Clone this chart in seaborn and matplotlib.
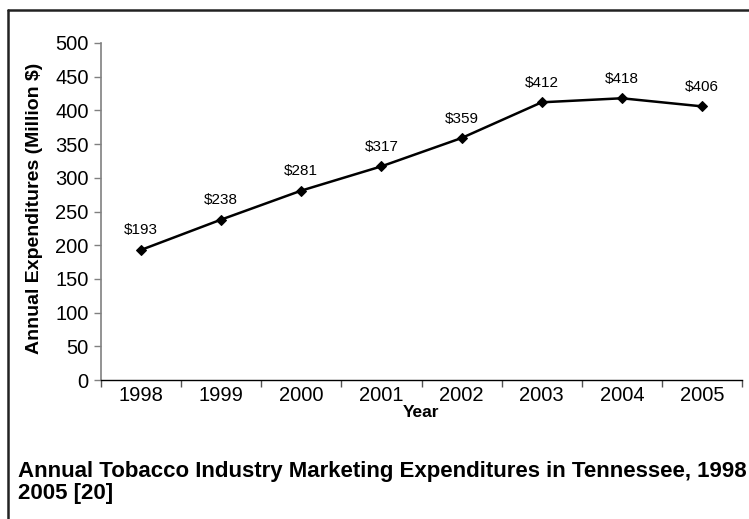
import numpy as np
import pandas as pd
import matplotlib
matplotlib.use("Agg")
import matplotlib.pyplot as plt
import seaborn as sns
from matplotlib.lines import Line2D

# dados
anos = ['1998', '1999', '2000', '2001', '2002', '2003', '2004', '2005']
gastos = [193, 238, 281, 317, 359, 412, 418, 406]
rotulos = ['$193', '$238', '$281', '$317', '$359', '$412', '$418', '$406']

sns.set_theme(style='white')
plt.rcParams['font.family'] = ['Liberation Sans', 'DejaVu Sans']
plt.rcParams['text.color'] = 'black'
plt.rcParams['axes.labelcolor'] = 'black'

df = pd.DataFrame({'pos': np.arange(len(anos)), 'valor': gastos})

fig = plt.figure(figsize=(7.49, 5.19), dpi=100)
ax = fig.add_axes([101 / 749, 1 - 380 / 519, (742 - 101) / 749, (380 - 43) / 519])

sns.lineplot(data=df, x='pos', y='valor', ax=ax, color='black', linewidth=1.8,
             marker='D', markersize=5.5, markeredgecolor='black')

for i, (v, r) in enumerate(zip(gastos, rotulos)):
    ax.annotate(r, (i, v), xytext=(0, 9), textcoords='offset points',
                ha='center', va='bottom', fontsize=11, color='black')

ax.set_xlim(-0.5, len(anos) - 0.5)
ax.set_ylim(0, 500)
ax.set_yticks(np.arange(0, 501, 50))
ax.set_xticks(np.arange(-0.5, len(anos)))
ax.set_xticklabels([])
ax.set_xticks(np.arange(len(anos)), minor=True)
ax.set_xticklabels(anos, minor=True)

ax.tick_params(axis='x', which='major', direction='out', length=5, width=1, color='#555555', bottom=True)
ax.tick_params(axis='x', which='minor', length=0, pad=4, labelsize=14.5, labelcolor='black', bottom=True)
ax.tick_params(axis='y', direction='out', length=5, width=1, color='#808080', left=True,
               labelsize=14.5, labelcolor='black', pad=4)

for s in ['top', 'right']:
    ax.spines[s].set_visible(False)
ax.spines['left'].set_color('#808080')
ax.spines['left'].set_linewidth(1.2)
ax.spines['bottom'].set_color('black')
ax.spines['bottom'].set_linewidth(1)

ax.set_xlabel('Year', fontsize=12.5, fontweight='bold')
ax.set_ylabel('Annual Expenditures (Million $)', fontsize=14, fontweight='bold')
ax.xaxis.set_label_coords((421 - 101) / 641, (380 - 405) / 337)
ax.yaxis.set_label_coords((43 - 101) / 641, (380 - 208) / 337)

fig.text(18 / 749, 1 - 471 / 519, 'Annual Tobacco Industry Marketing Expenditures in Tennessee, 1998',
         fontsize=16, fontweight='bold', ha='left', va='center')
fig.text(18 / 749, 1 - 494 / 519, '2005 [20]',
         fontsize=16, fontweight='bold', ha='left', va='center')

# moldura (so topo e esquerda visiveis)
fig.add_artist(Line2D([8 / 749, 8 / 749], [0, 1 - 10 / 519], transform=fig.transFigure,
                      color='#222222', linewidth=1.8))
fig.add_artist(Line2D([8 / 749, 1], [1 - 10 / 519, 1 - 10 / 519], transform=fig.transFigure,
                      color='#222222', linewidth=1.8))

fig.savefig('out.png', dpi=100)
